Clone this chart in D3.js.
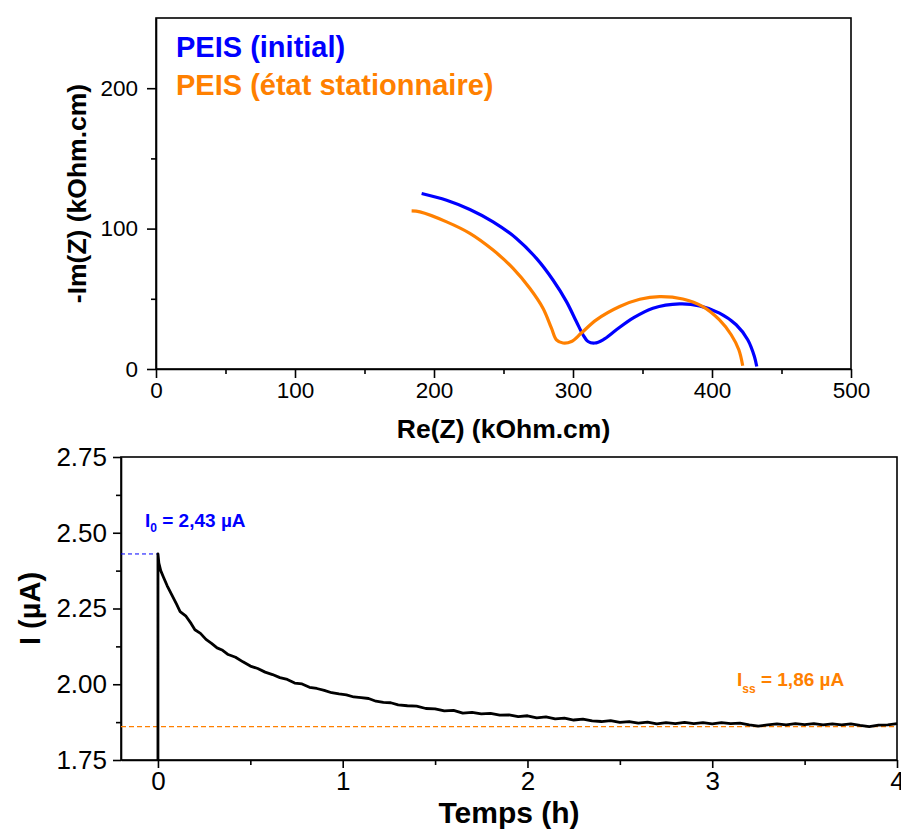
<!DOCTYPE html>
<html>
<head>
<meta charset="utf-8">
<script src="https://cdn.jsdelivr.net/npm/d3@7"></script>
<style>
  html, body { margin: 0; padding: 0; background: #fff; }
  svg { display: block; font-family: Arial, "Liberation Sans", sans-serif; }
</style>
</head>
<body>
<svg id="chart" width="901" height="830"></svg>
<script>
// ---------- DATA ----------
// Nyquist plot (kOhm.cm)
const peisInitialRe = [191.1, 209.1, 225.8, 242.5, 259.3, 273.7, 285.6, 295.3, 302.4, 307.2, 310.8, 315.6, 321.6, 331.2, 343.1, 357.5, 376.7, 391.1, 405.4, 417.4, 425.7, 430.5, 432.2];
const peisInitialIm = [125.0, 120.2, 113.6, 104.8, 93.0, 78.8, 63.4, 48.0, 33.8, 24.4, 19.6, 18.5, 20.8, 27.9, 36.2, 43.3, 46.4, 45.0, 39.8, 31.5, 20.8, 8.9, 1.8];
const peisSteadyRe = [183.9, 189.9, 209.1, 225.8, 242.5, 256.9, 268.9, 278.4, 284.5, 288.1, 292.8, 298.9, 306.0, 316.8, 333.6, 348.0, 362.3, 379.0, 393.4, 405.4, 413.8, 419.3, 422.1];
const peisSteadyIm = [112.6, 111.9, 104.8, 96.6, 84.7, 71.7, 57.5, 43.3, 29.1, 20.8, 18.5, 19.6, 25.6, 35.0, 44.5, 49.7, 51.6, 49.9, 44.5, 35.0, 24.4, 13.7, 2.3];
const seriesLabels = ["PEIS (initial)", "PEIS (état stationnaire)"];
const seriesColors = ["#0000FF", "#FF8000"];
const nyqXTicks = [0, 100, 200, 300, 400, 500];
const nyqYTicks = [0, 100, 200];

// Chronoamperometry
const timeH = [0, 0, 0.005, 0.015, 0.03, 0.05, 0.075, 0.1, 0.12, 0.15, 0.18, 0.2, 0.23, 0.26, 0.29, 0.32, 0.35, 0.38, 0.42, 0.46, 0.5, 0.54, 0.58, 0.62, 0.66, 0.7, 0.74, 0.78, 0.82, 0.86, 0.9, 0.94, 0.98, 1.02, 1.06, 1.1, 1.14, 1.18, 1.22, 1.26, 1.3, 1.35, 1.4, 1.45, 1.5, 1.55, 1.6, 1.65, 1.7, 1.75, 1.8, 1.85, 1.9, 1.95, 2.0, 2.05, 2.1, 2.15, 2.2, 2.25, 2.3, 2.35, 2.4, 2.45, 2.5, 2.55, 2.6, 2.65, 2.7, 2.75, 2.8, 2.85, 2.9, 2.95, 3.0, 3.05, 3.1, 3.15, 3.2, 3.25, 3.3, 3.35, 3.4, 3.45, 3.5, 3.55, 3.6, 3.65, 3.7, 3.75, 3.8, 3.85, 3.9, 3.95, 4.0];
const currentUA = [1.75, 2.43, 2.40, 2.375, 2.353, 2.325, 2.295, 2.265, 2.24, 2.226, 2.2, 2.18, 2.168, 2.148, 2.135, 2.12, 2.112, 2.098, 2.089, 2.074, 2.06, 2.052, 2.04, 2.032, 2.022, 2.016, 2.004, 2.001, 1.99, 1.986, 1.98, 1.972, 1.968, 1.965, 1.958, 1.956, 1.953, 1.944, 1.94, 1.939, 1.932, 1.929, 1.928, 1.92, 1.919, 1.912, 1.914, 1.905, 1.907, 1.902, 1.904, 1.898, 1.899, 1.893, 1.896, 1.889, 1.892, 1.886, 1.888, 1.882, 1.885, 1.879, 1.877, 1.88, 1.874, 1.877, 1.872, 1.875, 1.869, 1.873, 1.87, 1.874, 1.87, 1.873, 1.869, 1.873, 1.87, 1.872, 1.866, 1.862, 1.866, 1.869, 1.866, 1.87, 1.867, 1.87, 1.866, 1.869, 1.866, 1.869, 1.864, 1.86, 1.865, 1.866, 1.87];
const I0 = 2.43;
const Iss = 1.86;
const caXTicks = [0, 1, 2, 3, 4];
const caYTicks = [1.75, 2.00, 2.25, 2.50, 2.75];

// ---------- DRAW ----------
const svg = d3.select("#chart");
const FONT = 'Arial, "Liberation Sans", sans-serif';

function axisStyle(g) {
  g.selectAll("path.domain").attr("stroke", "#000").attr("stroke-width", 1.6);
  g.selectAll(".tick line").attr("stroke", "#000").attr("stroke-width", 1.6);
}

// ===== Top chart: Nyquist =====
const T = { left: 156, right: 851, top: 18, bottom: 369 };
const xN = d3.scaleLinear().domain([0, 500]).range([T.left, T.right]);
const yN = d3.scaleLinear().domain([0, 250]).range([T.bottom, T.top]);

const gTop = svg.append("g");
gTop.append("rect").attr("x", T.left).attr("y", T.top)
  .attr("width", T.right - T.left).attr("height", T.bottom - T.top)
  .attr("fill", "none").attr("stroke", "#000").attr("stroke-width", 1.6);

const gxNm = gTop.append("g").attr("transform", `translate(0,${T.bottom})`)
  .call(d3.axisBottom(xN).tickValues([50, 150, 250, 350, 450]).tickSize(5).tickFormat(""));
gxNm.select(".domain").remove(); axisStyle(gxNm);
const gyNm = gTop.append("g").attr("transform", `translate(${T.left},0)`)
  .call(d3.axisLeft(yN).tickValues([50, 150]).tickSize(5).tickFormat(""));
gyNm.select(".domain").remove(); axisStyle(gyNm);

const gxN = gTop.append("g").attr("transform", `translate(0,${T.bottom})`)
  .call(d3.axisBottom(xN).tickValues(nyqXTicks).tickSize(9).tickPadding(4).tickSizeOuter(0).tickFormat(d3.format("d")));
axisStyle(gxN);
gxN.selectAll("text").attr("font-size", 22.5).attr("font-family", FONT).attr("fill", "#000").attr("dy", "0.71em");
const gyN = gTop.append("g").attr("transform", `translate(${T.left},0)`)
  .call(d3.axisLeft(yN).tickValues(nyqYTicks).tickSize(9).tickPadding(9).tickSizeOuter(0).tickFormat(d3.format("d")));
axisStyle(gyN);
gyN.selectAll("text").attr("font-size", 22.5).attr("font-family", FONT).attr("fill", "#000");

const nyq = [
  peisInitialRe.map((v, i) => [v, peisInitialIm[i]]),
  peisSteadyRe.map((v, i) => [v, peisSteadyIm[i]])
];
const lineN = d3.line().x(d => xN(d[0])).y(d => yN(d[1])).curve(d3.curveCatmullRom.alpha(0.5));
nyq.forEach((s, i) => {
  gTop.append("path").datum(s).attr("d", lineN)
    .attr("fill", "none").attr("stroke", seriesColors[i]).attr("stroke-width", 3.2);
});

seriesLabels.forEach((lab, i) => {
  gTop.append("text").attr("x", 176).attr("y", 57 + i * 38)
    .attr("font-size", 29).attr("font-weight", "bold").attr("font-family", FONT)
    .attr("fill", seriesColors[i]).text(lab);
});

gTop.append("text").attr("x", (T.left + T.right) / 2).attr("y", 438)
  .attr("text-anchor", "middle").attr("font-size", 26.5).attr("font-weight", "bold")
  .attr("font-family", FONT).text("Re(Z) (kOhm.cm)");
gTop.append("text").attr("transform", `translate(86,${(T.top + T.bottom) / 2}) rotate(-90)`)
  .attr("text-anchor", "middle").attr("font-size", 26.5).attr("font-weight", "bold")
  .attr("font-family", FONT).text("-Im(Z) (kOhm.cm)");

// ===== Bottom chart: chronoamperometry =====
const B = { left: 121, right: 897, top: 457, bottom: 760 };
const xC = d3.scaleLinear().domain([-0.2, 4]).range([B.left, B.right]);
const yC = d3.scaleLinear().domain([1.75, 2.75]).range([B.bottom, B.top]);

const gBot = svg.append("g");
gBot.append("rect").attr("x", B.left).attr("y", B.top)
  .attr("width", B.right - B.left).attr("height", B.bottom - B.top)
  .attr("fill", "none").attr("stroke", "#000").attr("stroke-width", 1.6);

const gxCm = gBot.append("g").attr("transform", `translate(0,${B.bottom})`)
  .call(d3.axisBottom(xC).tickValues([0.5, 1.5, 2.5, 3.5]).tickSize(5).tickFormat(""));
gxCm.select(".domain").remove(); axisStyle(gxCm);
const gyCm = gBot.append("g").attr("transform", `translate(${B.left},0)`)
  .call(d3.axisLeft(yC).tickValues([1.875, 2.125, 2.375, 2.625]).tickSize(5).tickFormat(""));
gyCm.select(".domain").remove(); axisStyle(gyCm);

const gxC = gBot.append("g").attr("transform", `translate(0,${B.bottom})`)
  .call(d3.axisBottom(xC).tickValues(caXTicks).tickSize(8).tickPadding(4).tickSizeOuter(0).tickFormat(d3.format("d")));
axisStyle(gxC);
gxC.selectAll("text").attr("font-size", 26).attr("font-family", FONT).attr("fill", "#000").attr("dy", "0.71em");
const gyC = gBot.append("g").attr("transform", `translate(${B.left},0)`)
  .call(d3.axisLeft(yC).tickValues(caYTicks).tickSize(8).tickPadding(6).tickSizeOuter(0).tickFormat(d3.format(".2f")));
axisStyle(gyC);
gyC.selectAll("text").attr("font-size", 26).attr("font-family", FONT).attr("fill", "#000");

gBot.append("line").attr("x1", xC(-0.2)).attr("x2", xC(0)).attr("y1", yC(I0)).attr("y2", yC(I0))
  .attr("stroke", "#0000FF").attr("stroke-width", 1).attr("stroke-dasharray", "4,3");
gBot.append("line").attr("x1", xC(-0.2)).attr("x2", xC(4)).attr("y1", yC(Iss)).attr("y2", yC(Iss))
  .attr("stroke", "#FF8000").attr("stroke-width", 1.2).attr("stroke-dasharray", "5,3");

const ca = timeH.map((t, i) => [t, currentUA[i]]);
const lineC = d3.line().x(d => xC(d[0])).y(d => yC(d[1])).curve(d3.curveLinear);
gBot.append("path").datum(ca).attr("d", lineC)
  .attr("fill", "none").attr("stroke", "#000").attr("stroke-width", 2.8)
  .attr("stroke-linejoin", "round");

const a0 = gBot.append("text").attr("x", 145).attr("y", 527)
  .attr("font-size", 19).attr("font-weight", "bold").attr("font-family", FONT).attr("fill", "#0000FF");
a0.append("tspan").text("I");
a0.append("tspan").attr("font-size", 12).attr("dy", 5).text("0");
a0.append("tspan").attr("dy", -5).text(" = 2,43 µA");

const a1 = gBot.append("text").attr("x", 737).attr("y", 686)
  .attr("font-size", 19).attr("font-weight", "bold").attr("font-family", FONT).attr("fill", "#FF8000");
a1.append("tspan").text("I");
a1.append("tspan").attr("font-size", 12).attr("dy", 7).text("ss");
a1.append("tspan").attr("dy", -7).text(" = 1,86 µA");

gBot.append("text").attr("x", (B.left + B.right) / 2).attr("y", 823)
  .attr("text-anchor", "middle").attr("font-size", 30).attr("font-weight", "bold")
  .attr("font-family", FONT).text("Temps (h)");
gBot.append("text").attr("transform", `translate(40,${(B.top + B.bottom) / 2}) rotate(-90)`)
  .attr("text-anchor", "middle").attr("font-size", 29).attr("font-weight", "bold")
  .attr("font-family", FONT).text("I (µA)");
</script>
</body>
</html>
